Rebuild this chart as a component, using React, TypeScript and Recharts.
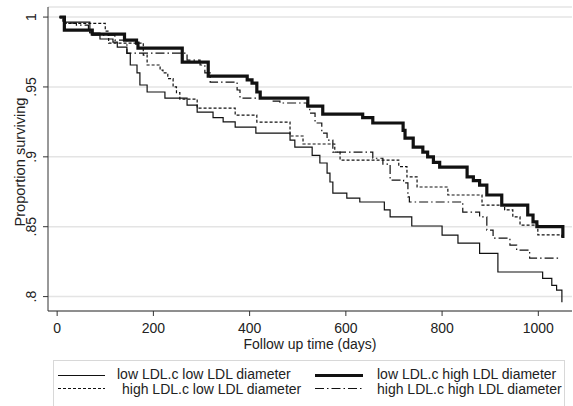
import React from 'react';
import { LineChart, Line, XAxis, YAxis, CartesianGrid, Label } from 'recharts';

// Kaplan-Meier steps: [day, proportion surviving]
const lowLow = [
  [5, 1], [17, 0.9964], [68, 0.9886], [89, 0.9843], [116, 0.982], [125, 0.9785],
  [145, 0.974], [152, 0.9657], [166, 0.96], [172, 0.9514], [187, 0.9464], [224, 0.942],
  [270, 0.937], [291, 0.932], [324, 0.928], [345, 0.925], [370, 0.9213], [413, 0.917],
  [484, 0.912], [494, 0.907], [530, 0.901], [546, 0.8956], [561, 0.8884], [567, 0.882],
  [573, 0.874], [602, 0.8705], [629, 0.8677], [680, 0.862], [692, 0.857], [737, 0.8505],
  [800, 0.844], [833, 0.8383], [878, 0.831], [916, 0.8176], [1009, 0.813], [1028, 0.808],
  [1038, 0.8047], [1049, 0.796],
];

const lowHigh = [
  [5, 1], [15, 0.9907], [73, 0.9878], [140, 0.9835], [165, 0.9814], [168, 0.9778],
  [260, 0.9678], [314, 0.9578], [395, 0.955], [405, 0.9528], [415, 0.9464], [422, 0.942],
  [521, 0.9363], [552, 0.9306], [635, 0.928], [656, 0.9242], [719, 0.919], [723, 0.9134],
  [740, 0.907], [760, 0.9034], [770, 0.9], [782, 0.896], [795, 0.8927], [852, 0.8856],
  [865, 0.883], [878, 0.8798], [893, 0.8727], [924, 0.8655], [978, 0.8584], [989, 0.8534],
  [997, 0.85], [1051, 0.842],
];

const highLow = [
  [5, 1], [12, 0.9955], [100, 0.99], [107, 0.9814], [179, 0.9728], [187, 0.9657],
  [214, 0.962], [220, 0.96], [230, 0.956], [241, 0.95], [248, 0.946], [255, 0.9413],
  [291, 0.9349], [370, 0.9299], [415, 0.9249], [484, 0.9149], [511, 0.9092], [577, 0.9034],
  [588, 0.8977], [710, 0.893], [727, 0.8856], [748, 0.8784], [812, 0.8727], [883, 0.8655],
  [930, 0.862], [947, 0.857], [962, 0.8512], [999, 0.8441], [1049, 0.8426],
];

const highHigh = [
  [5, 1], [17, 0.9957], [40, 0.9943], [65, 0.989], [73, 0.987], [120, 0.9835],
  [145, 0.9742], [270, 0.9692], [297, 0.9657], [307, 0.96], [318, 0.9535], [374, 0.9478],
  [380, 0.942], [449, 0.9399], [463, 0.9385], [519, 0.9363], [525, 0.9313], [536, 0.9242],
  [550, 0.917], [561, 0.912], [573, 0.9034], [656, 0.899], [677, 0.8948], [692, 0.8834],
  [720, 0.8813], [729, 0.8713], [732, 0.8677], [843, 0.8605], [878, 0.857], [893, 0.8476],
  [906, 0.8419], [941, 0.8369], [955, 0.8333], [982, 0.8276], [1045, 0.8276],
];

const xTicks = [0, 200, 400, 600, 800, 1000];
const yTicks = [0.8, 0.85, 0.9, 0.95, 1];
const yTickLabels = ['.8', '.85', '.9', '.95', '1'];

const legendLabels = [
  'low LDL.c low LDL diameter',
  'low LDL.c high LDL diameter',
  'high LDL.c low LDL diameter',
  'high LDL.c high LDL diameter',
];

const FONT = '"Liberation Sans", Arial, sans-serif';
const INK = '#111';
const TEXT = '#222';

const toRows = (pts: number[][]) => pts.map(([t, s]) => ({ t, s }));

const YTick = (props: any) => {
  const { y, payload } = props;
  const i = yTicks.indexOf(payload.value);
  return (
    <text
      x={31}
      y={y}
      transform={`rotate(-90, 31, ${y})`}
      textAnchor="middle"
      dominantBaseline="central"
      fontSize={14}
      fontFamily={FONT}
      fill={TEXT}
    >
      {i >= 0 ? yTickLabels[i] : payload.value}
    </text>
  );
};

const LegendBox = () => (
  <svg width={573} height={406} style={{ position: 'absolute', left: 0, top: 0, pointerEvents: 'none' }}>
    <rect x={53.5} y={360.5} width={511} height={60} fill="none" stroke="#d8d8d8" />
    <line x1={58} x2={105} y1={375.5} y2={375.5} stroke={INK} strokeWidth={1.2} />
    <line x1={315} x2={363} y1={375.5} y2={375.5} stroke={INK} strokeWidth={3.2} />
    <line x1={58} x2={105} y1={388.5} y2={388.5} stroke={INK} strokeWidth={1.2} strokeDasharray="3 2" />
    <line x1={315} x2={363} y1={388.5} y2={388.5} stroke={INK} strokeWidth={1.2} strokeDasharray="9 3 1.5 3" />
    <g fontFamily={FONT} fontSize={14} fill={TEXT}>
      <text x={117} y={379}>{legendLabels[0]}</text>
      <text x={377} y={379}>{legendLabels[1]}</text>
      <text x={122} y={394}>{legendLabels[2]}</text>
      <text x={377} y={394}>{legendLabels[3]}</text>
    </g>
  </svg>
);

export default function App() {
  return (
    <div style={{ position: 'absolute', left: 0, top: 0, width: 573, height: 406, background: '#fff' }}>
      <LineChart width={573} height={406} margin={{ top: 7, right: 1, bottom: 0, left: 0 }}>
        <CartesianGrid vertical={false} stroke="#e4e4e4" strokeWidth={1.5} />
        <XAxis
          type="number"
          dataKey="t"
          domain={[-19, 1070]}
          allowDataOverflow
          ticks={xTicks}
          height={95}
          tickSize={5}
          tickMargin={7}
          stroke="#333"
          tick={{ fontSize: 14, fontFamily: FONT, fill: TEXT }}
        >
          <Label
            content={() => (
              <text x={310} y={349} textAnchor="middle" fontSize={14} fontFamily={FONT} fill={TEXT}>
                Follow up time (days)
              </text>
            )}
          />
        </XAxis>
        <YAxis
          type="number"
          dataKey="s"
          domain={[0.7897, 1.0072]}
          allowDataOverflow
          ticks={yTicks}
          width={48}
          tickSize={5}
          stroke="#333"
          tick={<YTick />}
        >
          <Label
            content={() => (
              <text
                x={25}
                y={162}
                transform="rotate(-90, 25, 162)"
                textAnchor="middle"
                fontSize={14.6}
                fontFamily={FONT}
                fill={TEXT}
              >
                Proportion surviving
              </text>
            )}
          />
        </YAxis>
        <Line data={toRows(lowLow)} dataKey="s" type="stepAfter" stroke={INK} strokeWidth={1.2} dot={false} isAnimationActive={false} />
        <Line data={toRows(highLow)} dataKey="s" type="stepAfter" stroke={INK} strokeWidth={1.2} strokeDasharray="3 2" dot={false} isAnimationActive={false} />
        <Line data={toRows(highHigh)} dataKey="s" type="stepAfter" stroke={INK} strokeWidth={1.2} strokeDasharray="9 3 1.5 3" dot={false} isAnimationActive={false} />
        <Line data={toRows(lowHigh)} dataKey="s" type="stepAfter" stroke={INK} strokeWidth={3.2} dot={false} isAnimationActive={false} />
      </LineChart>
      <LegendBox />
    </div>
  );
}
